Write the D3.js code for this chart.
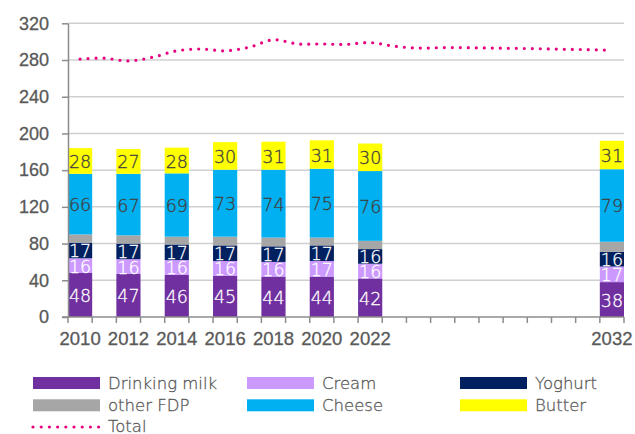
<!DOCTYPE html>
<html>
<head>
<meta charset="utf-8">
<script src="https://cdn.jsdelivr.net/npm/d3@7"></script>
<style>
  html, body { margin: 0; padding: 0; background: #fff; }
  svg { display: block; font-family: "DejaVu Sans", sans-serif; font-weight: 200; }
</style>
</head>
<body>
<svg id="chart" width="635" height="434"></svg>
<script>
// ---- data ----
const allYears = ["2010","2011","2012","2013","2014","2015","2016","2017","2018","2019","2020","2021","2022","2023","2024","2025","2026","2027","2028","2029","2030","2031","2032"];
const barYears = ["2010","2012","2014","2016","2018","2020","2022","2032"];
const labelYears = ["2010","2012","2014","2016","2018","2020","2022","2032"];
const drinkingMilk = [48,47,46,45,44,44,42,38];
const cream        = [16,16,16,16,16,17,16,17];
const yoghurt      = [17,17,17,17,17,17,16,16];
const otherFDP     = [9,9,8.5,9.5,9.5,8.5,9,11];
const cheese       = [66,67,69,73,74,75,76,79];
const butter       = [28,27,28,30,30.5,31,30,31];
const total        = [281,282,279,283,290,292,290,294,302,297.5,297.5,297,299,295,293,293.5,293.5,293,292.7,292.3,291.7,291.3,290.6];
const yTicks = [0,40,80,120,160,200,240,280,320];

const seriesNames = ["Drinking milk","Cream","Yoghurt","other FDP","Cheese","Butter"];
const seriesData = [drinkingMilk, cream, yoghurt, otherFDP, cheese, butter];
const colors = ["#7030A0","#CC99FF","#002060","#A6A6A6","#00B0F0","#FFFF00"];
const labelColors = ["#ffffff","#ffffff","#ffffff",null,"#404040","#404040"];
const totalColor = "#E6007E";
const textGrey = "#595959";

// ---- scales ----
const svg = d3.select("#chart");
const x = d3.scaleBand().domain(allYears).range([68, 624]).padding(0);
const y = d3.scaleLinear().domain([0, 320]).range([317, 23.3]);

function thicken(sel, col) {
  sel.attr("stroke", col).attr("stroke-width", 0.3).attr("stroke-linejoin", "round");
}

// gridlines
svg.append("g").selectAll("line").data(yTicks.filter(d => d > 0)).join("line")
  .attr("x1", 68).attr("x2", 624)
  .attr("y1", d => y(d)).attr("y2", d => y(d))
  .attr("stroke", "#d0d0d0").attr("stroke-width", 1.5);

// stacked bars
const table = barYears.map((yr, i) => {
  const o = { year: yr };
  seriesNames.forEach((s, k) => o[s] = seriesData[k][i]);
  return o;
});
const stack = d3.stack().keys(seriesNames)(table);

const gBars = svg.append("g");
stack.forEach((layer, k) => {
  gBars.append("g").selectAll("rect").data(layer).join("rect")
    .attr("x", d => x(d.data.year))
    .attr("width", x.bandwidth())
    .attr("y", d => y(d[1]))
    .attr("height", d => y(d[0]) - y(d[1]))
    .attr("fill", colors[k]);
});
stack.forEach((layer, k) => {
  if (!labelColors[k]) return;
  const t = gBars.append("g").selectAll("text").data(layer).join("text")
    .attr("x", d => x(d.data.year) + x.bandwidth() / 2)
    .attr("y", d => (y(d[0]) + y(d[1])) / 2 + 1)
    .attr("text-anchor", "middle")
    .attr("dominant-baseline", "central")
    .attr("font-size", 17.5)
    .attr("fill", labelColors[k])
    .text(d => Math.round(d[1] - d[0]));
  thicken(t, labelColors[k]);
});

// total line
const line = d3.line()
  .x((d, i) => x(allYears[i]) + x.bandwidth() / 2)
  .y(d => y(d))
  .curve(d3.curveCatmullRom.alpha(0.5));
svg.append("path").datum(total)
  .attr("d", line)
  .attr("fill", "none")
  .attr("stroke", totalColor)
  .attr("stroke-width", 3.2)
  .attr("stroke-linecap", "round")
  .attr("stroke-dasharray", "0 8");

// y axis
const yAxis = d3.axisLeft(y).tickValues(yTicks).tickSizeInner(6).tickSizeOuter(0).tickPadding(13);
const gy = svg.append("g").attr("transform", "translate(68,0)").call(yAxis);
gy.select(".domain").attr("stroke", "#8c8c8c").attr("stroke-width", 1.5);
gy.selectAll(".tick line").attr("stroke", "#8c8c8c").attr("stroke-width", 1.5);
const yt = gy.selectAll(".tick text").attr("font-size", 18).attr("fill", textGrey).attr("font-family", null);
thicken(yt, textGrey);

// x axis
const xAxis = d3.axisBottom(x).tickValues(labelYears).tickSize(0).tickPadding(15);
const gx = svg.append("g").attr("transform", "translate(0,317)").call(xAxis);
gx.select(".domain").remove();
const xt = gx.selectAll(".tick text").attr("font-size", 18.5).attr("fill", textGrey).attr("font-family", null);
thicken(xt, textGrey);
svg.append("line").attr("x1", 62).attr("x2", 624).attr("y1", 317).attr("y2", 317)
  .attr("stroke", "#8c8c8c").attr("stroke-width", 1.5);
const boundaries = allYears.map(d => x(d)).concat([x.range()[1]]);
svg.append("g").selectAll("line").data(boundaries).join("line")
  .attr("x1", d => d).attr("x2", d => d)
  .attr("y1", 317).attr("y2", 323)
  .attr("stroke", "#8c8c8c").attr("stroke-width", 1.5);

// legend
const legendItems = [
  { name: "Drinking milk", col: 0, row: 0, color: colors[0] },
  { name: "Cream", col: 1, row: 0, color: colors[1] },
  { name: "Yoghurt", col: 2, row: 0, color: colors[2] },
  { name: "other FDP", col: 0, row: 1, color: colors[3] },
  { name: "Cheese", col: 1, row: 1, color: colors[4] },
  { name: "Butter", col: 2, row: 1, color: colors[5] },
  { name: "Total", col: 0, row: 2, color: totalColor, line: true }
];
const colX = [33, 247, 460];
const rowY = [383, 405.3, 426];
const gl = svg.append("g");
legendItems.forEach(it => {
  const lx = colX[it.col], ly = rowY[it.row];
  if (it.line) {
    gl.append("line").attr("x1", lx).attr("x2", lx + 66).attr("y1", ly + 1).attr("y2", ly + 1)
      .attr("stroke", it.color).attr("stroke-width", 3.2)
      .attr("stroke-linecap", "round").attr("stroke-dasharray", "0 8.2");
  } else {
    gl.append("rect").attr("x", lx).attr("y", ly - 6).attr("width", 67).attr("height", 12)
      .attr("fill", it.color);
  }
  const t = gl.append("text").attr("x", lx + 75).attr("y", ly)
    .attr("dominant-baseline", "central")
    .attr("font-size", 16.5).attr("fill", textGrey)
    .text(it.name);
  thicken(t, textGrey);
});
</script>
</body>
</html>
